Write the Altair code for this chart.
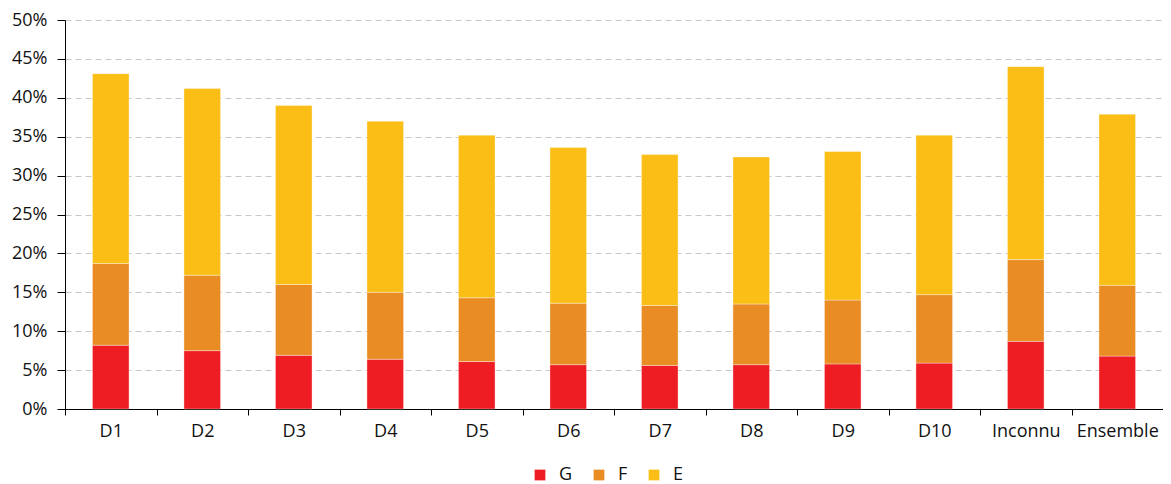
import altair as alt
import pandas as pd

categories = ["D1", "D2", "D3", "D4", "D5", "D6", "D7", "D8", "D9", "D10", "Inconnu", "Ensemble"]
# cumulative levels (in %)
g_vals = [8.2, 7.5, 6.9, 6.4, 6.1, 5.7, 5.6, 5.7, 5.8, 5.9, 8.7, 6.8]
gf_vals = [18.7, 17.2, 16.0, 15.0, 14.3, 13.6, 13.3, 13.5, 14.0, 14.7, 19.2, 15.9]
total_vals = [43.1, 41.2, 39.0, 37.0, 35.2, 33.6, 32.7, 32.4, 33.1, 35.2, 44.0, 37.9]

series = ["G", "F", "E"]
colors = ["#EE1D23", "#E98C23", "#FBBE16"]

rows = []
for i, c in enumerate(categories):
    g = g_vals[i]
    f = gf_vals[i] - g_vals[i]
    e = total_vals[i] - gf_vals[i]
    for k, (s, v) in enumerate(zip(series, [g, f, e])):
        rows.append({"cat": c, "serie": s, "val": v / 100.0, "ord": k})
df = pd.DataFrame(rows)

font = "Open Sans"

chart = alt.Chart(df).mark_bar(stroke="#ffffff", strokeWidth=0.6, strokeOpacity=0.6,
                               width=alt.RelativeBandSize(0.4)).encode(
    x=alt.X("cat:N", sort=categories, title=None,
            scale=alt.Scale(paddingInner=0, paddingOuter=0),
            axis=alt.Axis(labelAngle=0, tickBand="extent", domainColor="#000", tickColor="#000",
                          tickSize=6, labelFontSize=18, labelColor="#111", labelPadding=7,
                          labelFont=font, grid=False)),
    y=alt.Y("val:Q", stack="zero", title=None,
            scale=alt.Scale(domain=[0, 0.5], nice=False),
            axis=alt.Axis(format=".0%", values=[i * 0.05 for i in range(11)], domainColor="#000",
                          tickColor="#000", tickSize=8, labelFontSize=18, labelColor="#111",
                          labelFont=font, labelPadding=10,
                          gridColor="#c8c8c8", gridDash=[6, 4], gridWidth=1)),
    color=alt.Color("serie:N", scale=alt.Scale(domain=series, range=colors),
                    legend=alt.Legend(title=None, orient="none", direction="horizontal",
                                      legendX=466, legendY=446, symbolType="square",
                                      symbolSize=115, symbolStrokeWidth=0, labelFontSize=18,
                                      labelFont=font, labelColor="#111", columnPadding=17,
                                      labelOffset=10)),
    order=alt.Order("ord:Q"),
).properties(
    width=1098, height=389,
    padding={"left": 57, "top": 12, "right": 0, "bottom": 78},
    autosize=alt.AutoSizeParams(type="none"),
).configure_view(stroke=None)

chart.save("out.html", embed_options={"renderer": "svg", "actions": False})
